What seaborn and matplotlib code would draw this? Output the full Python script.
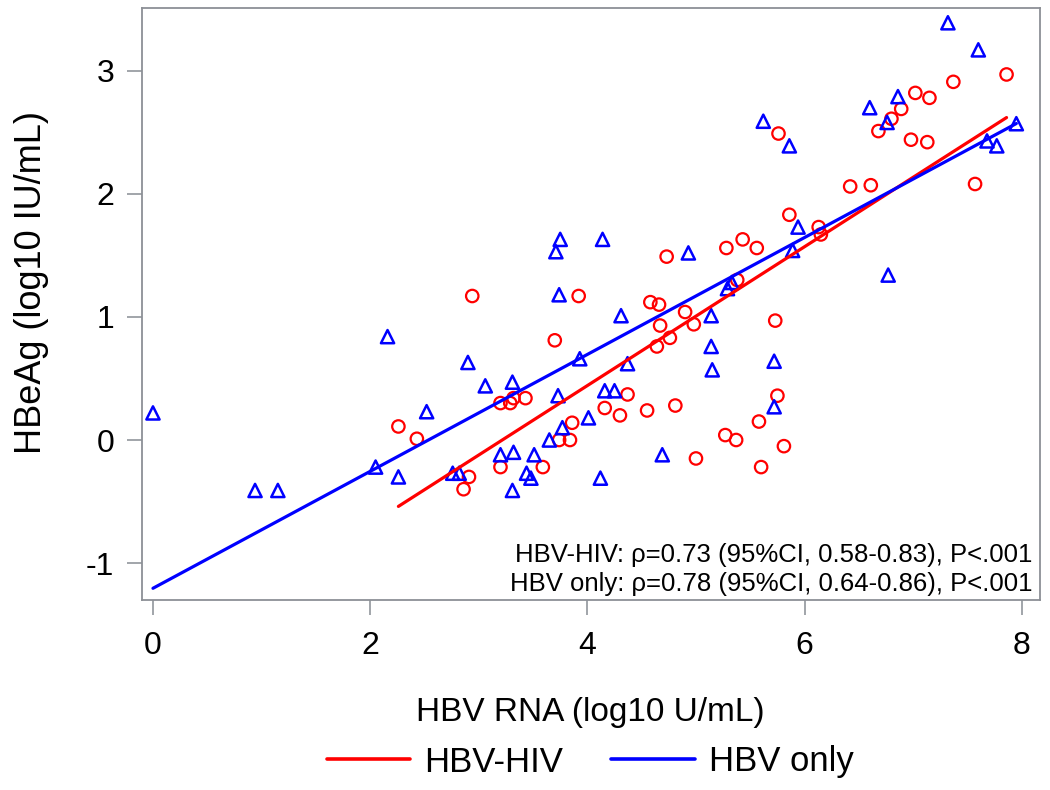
import numpy as np
import pandas as pd
import matplotlib
matplotlib.use("Agg")
import matplotlib.pyplot as plt
import seaborn as sns
from matplotlib.lines import Line2D

# HBV-HIV coinfected (red circles)
hiv_x = [2.26, 2.43, 2.86, 2.91, 2.94, 3.20, 3.20, 3.29, 3.32, 3.43, 3.59, 3.70, 3.74, 3.84,
         3.86, 3.92, 4.16, 4.30, 4.37, 4.55, 4.58, 4.64, 4.66, 4.67, 4.73, 4.76, 4.81, 4.90,
         4.98, 5.00, 5.27, 5.28, 5.37, 5.38, 5.43, 5.56, 5.58, 5.60, 5.73, 5.75, 5.76, 5.81,
         5.86, 6.13, 6.15, 6.42, 6.61, 6.68, 6.80, 6.89, 6.98, 7.02, 7.13, 7.15, 7.37, 7.57, 7.86]
hiv_y = [0.11, 0.01, -0.40, -0.30, 1.17, -0.22, 0.30, 0.30, 0.34, 0.34, -0.22, 0.81, 0.00, 0.00,
         0.14, 1.17, 0.26, 0.20, 0.37, 0.24, 1.12, 0.76, 1.10, 0.93, 1.49, 0.83, 0.28, 1.04,
         0.94, -0.15, 0.04, 1.56, 0.00, 1.30, 1.63, 1.56, 0.15, -0.22, 0.97, 0.36, 2.49, -0.05,
         1.83, 1.73, 1.67, 2.06, 2.07, 2.51, 2.61, 2.69, 2.44, 2.82, 2.42, 2.78, 2.91, 2.08, 2.97]

# HBV mono-infected (blue triangles)
mono_x = [0.00, 0.94, 1.15, 2.05, 2.16, 2.26, 2.52, 2.76, 2.82, 2.90, 3.06, 3.20, 3.31, 3.31,
          3.32, 3.44, 3.48, 3.51, 3.65, 3.71, 3.73, 3.74, 3.75, 3.77, 3.93, 4.01, 4.12, 4.14,
          4.16, 4.25, 4.31, 4.37, 4.69, 4.93, 5.14, 5.14, 5.15, 5.29, 5.33, 5.62, 5.72, 5.72,
          5.86, 5.89, 5.94, 6.60, 6.76, 6.77, 6.86, 7.32, 7.60, 7.68, 7.77, 7.95]
mono_y = [0.22, -0.41, -0.41, -0.22, 0.84, -0.30, 0.23, -0.27, -0.27, 0.63, 0.44, -0.12, 0.47, -0.41,
          -0.10, -0.27, -0.31, -0.12, 0.00, 1.53, 0.36, 1.18, 1.63, 0.10, 0.66, 0.18, -0.31, 1.63,
          0.40, 0.40, 1.01, 0.62, -0.12, 1.52, 1.01, 0.76, 0.57, 1.23, 1.28, 2.59, 0.64, 0.27,
          2.39, 1.54, 1.73, 2.70, 2.58, 1.34, 2.79, 3.39, 3.17, 2.43, 2.39, 2.57]

groups = ["HBV-HIV", "HBV only"]
colors = {"HBV-HIV": "#ff0000", "HBV only": "#0000ff"}
annot = ["HBV-HIV: \u03c1=0.73 (95%CI, 0.58-0.83), P<.001",
         "HBV only: \u03c1=0.78 (95%CI, 0.64-0.86), P<.001"]
x_ticks = [0, 2, 4, 6, 8]
y_ticks = [-1, 0, 1, 2, 3]

df = pd.DataFrame({
    "rna": hiv_x + mono_x,
    "hbeag": hiv_y + mono_y,
    "group": ["HBV-HIV"] * len(hiv_x) + ["HBV only"] * len(mono_x),
})

sns.set_style("white")
plt.rcParams["font.family"] = ["Liberation Sans", "DejaVu Sans"]
plt.rcParams["text.color"] = "black"
plt.rcParams["axes.labelcolor"] = "black"

W, H = 1050, 790
fig = plt.figure(figsize=(W / 100, H / 100), dpi=100)
L, R, T, B = 142, 1040, 8, 600
ax = fig.add_axes([L / W, 1 - B / H, (R - L) / W, (B - T) / H])

sub_h = df[df.group == "HBV-HIV"]
sub_m = df[df.group == "HBV only"]

ax.scatter(sub_h.rna, sub_h.hbeag, s=80, marker="o", facecolors="none",
           edgecolors=colors["HBV-HIV"], linewidths=1.6, zorder=3)
ax.scatter(sub_m.rna, sub_m.hbeag, s=90, marker="^", facecolors="none",
           edgecolors=colors["HBV only"], linewidths=1.8, zorder=3)

sns.regplot(data=sub_h, x="rna", y="hbeag", scatter=False, ci=None, ax=ax,
            line_kws=dict(color=colors["HBV-HIV"], lw=2.3, zorder=4))
sns.regplot(data=sub_m, x="rna", y="hbeag", scatter=False, ci=None, ax=ax,
            line_kws=dict(color=colors["HBV only"], lw=2.3, zorder=4))

ax.set_xlim(-0.101, 8.168)
ax.set_ylim(-1.30, 3.51)
ax.set_xticks(x_ticks)
ax.set_yticks(y_ticks)
ax.set_xticklabels([str(t) for t in x_ticks])
ax.set_yticklabels([str(t) for t in y_ticks])
ax.tick_params(axis="both", direction="out", length=11, width=1.3, color="#9a9ea4",
               labelcolor="black", labelsize=23, left=True, bottom=True)
ax.tick_params(axis="y", pad=9)
ax.tick_params(axis="x", pad=11)
for sp in ax.spines.values():
    sp.set_color("#8c9096")
    sp.set_linewidth(1.3)

ax.set_xlabel("HBV RNA (log10 U/mL)", fontsize=24)
ax.set_ylabel("HBeAg (log10 IU/mL)", fontsize=26)
ax.xaxis.label.set_va("center")
ax.yaxis.label.set_va("center")
ax.xaxis.set_label_coords((590 - L) / (R - L), -(712 - B) / (B - T))
ax.yaxis.set_label_coords(-(L - 32) / (R - L), (B - 282) / (B - T))

ax.text(0.9915, (B - 562) / (B - T), annot[0], transform=ax.transAxes, ha="right",
        va="baseline", fontsize=18.5)
ax.text(0.9915, (B - 591) / (B - T), annot[1], transform=ax.transAxes, ha="right",
        va="baseline", fontsize=18.5)

handles = [Line2D([0], [0], color=colors[g], lw=2.6) for g in groups]
fig.legend(handles, groups, loc="center", bbox_to_anchor=(590 / W, 1 - 762 / H),
           ncol=2, frameon=False, fontsize=25, handlelength=2.4, columnspacing=1.4,
           handletextpad=0.4)

fig.savefig("out.png", dpi=100)
